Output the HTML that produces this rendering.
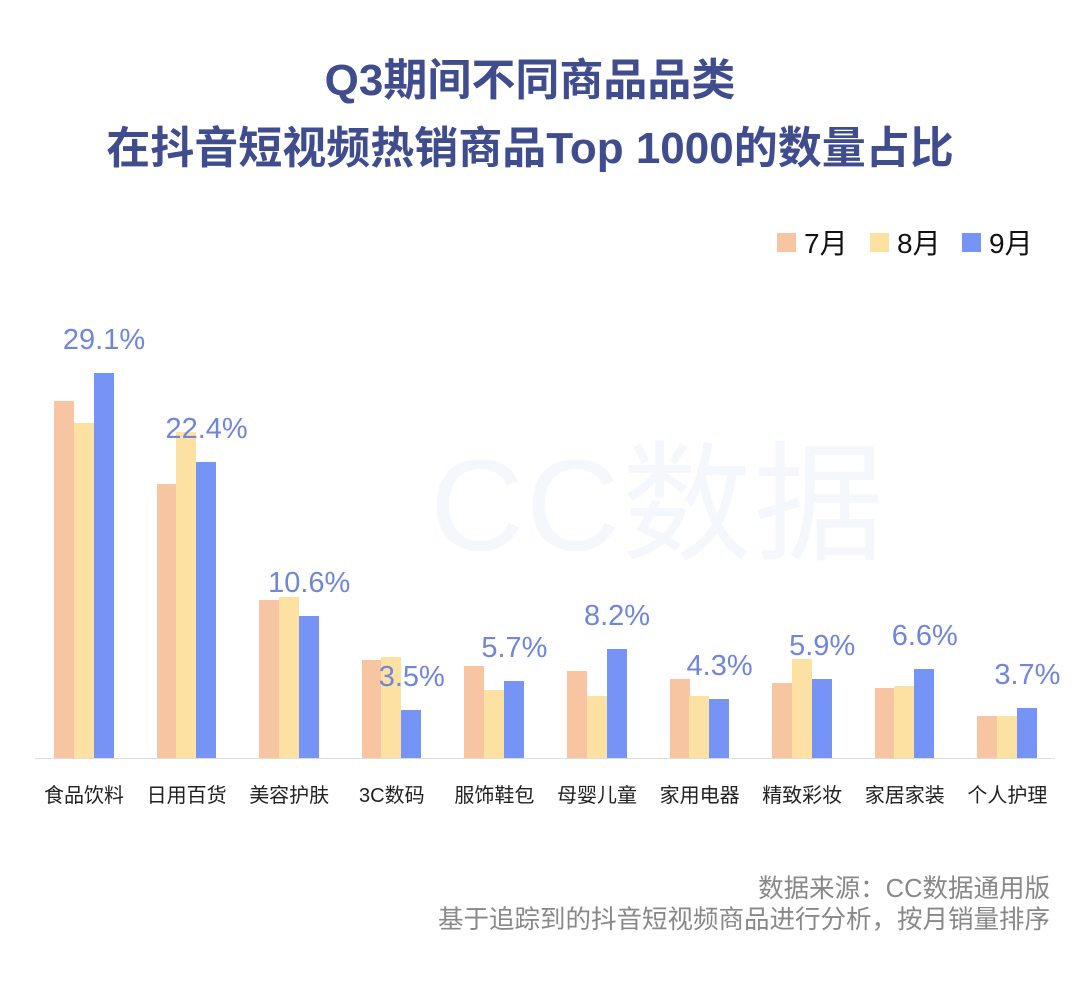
<!DOCTYPE html><html><head><meta charset="utf-8"><style>
body{margin:0;width:1080px;height:987px;background:#fff;position:relative;overflow:hidden;font-family:"Liberation Sans","Noto Sans CJK SC",sans-serif}
.t{position:absolute;left:-10px;width:1080px;text-align:center;color:#3f4d8f;font-weight:bold;font-size:44px;line-height:50px}
.b{position:absolute;bottom:229px;width:20px}
.a{background:#f8c5a3}.c{background:#fde1a3}.d{background:#7693f6}
.l{position:absolute;color:#7086d8;font-size:29px;width:120px;text-align:center}
.x{position:absolute;top:779px;width:102px;text-align:center;font-size:20px;color:#222}
.lg{position:absolute;top:233px;width:19px;height:19px}
.lt{position:absolute;top:222px;font-size:28px;color:#111}
.s{position:absolute;right:30px;font-size:25.5px;color:#888;text-align:right;line-height:30px}
</style></head><body>
<div class="t" style="top:56px">Q3期间不同商品品类</div>
<div class="t" style="top:124px">在抖音短视频热销商品Top 1000的数量占比</div>
<div class="lg a" style="left:777px"></div><div class="lt" style="left:804px">7月</div>
<div class="lg c" style="left:870px"></div><div class="lt" style="left:897px">8月</div>
<div class="lg d" style="left:962px"></div><div class="lt" style="left:989px">9月</div>
<div style="position:absolute;left:430px;top:400px;font-size:130px;color:#f4f7fb;letter-spacing:2px">CC数据</div>
<div style="position:absolute;left:35px;top:758px;width:1020px;height:1px;background:#ddd"></div>
<div id="g"></div>
<div class="s" style="top:874px">数据来源：CC数据通用版</div>
<div class="s" style="top:905px">基于追踪到的抖音短视频商品进行分析，按月销量排序</div>
<script>
var d=[["食品饮料",401,423,373,"29.1%"],["日用百货",484,432,462,"22.4%"],["美容护肤",600,597,616,"10.6%"],["3C数码",660,657,710,"3.5%"],["服饰鞋包",666,690,681,"5.7%"],["母婴儿童",671,696,649,"8.2%"],["家用电器",679,696,699,"4.3%"],["精致彩妆",683,659,679,"5.9%"],["家居家装",688,686,669,"6.6%"],["个人护理",716,716,708,"3.7%"]];
var h="";d.forEach(function(r,i){var x=54+i*102.6;
h+='<div class="b a" style="left:'+x+'px;height:'+(758-r[1])+'px"></div>';
h+='<div class="b c" style="left:'+(x+19.5)+'px;height:'+(758-r[2])+'px"></div>';
h+='<div class="b d" style="left:'+(x+39.5)+'px;height:'+(758-r[3])+'px"></div>';
h+='<div class="l" style="left:'+(x+50-60)+'px;top:'+(r[3]-49)+'px">'+r[4]+'</div>';
h+='<div class="x" style="left:'+(x-21)+'px">'+r[0]+'</div>';});
document.getElementById("g").innerHTML=h;
</script></body></html>
